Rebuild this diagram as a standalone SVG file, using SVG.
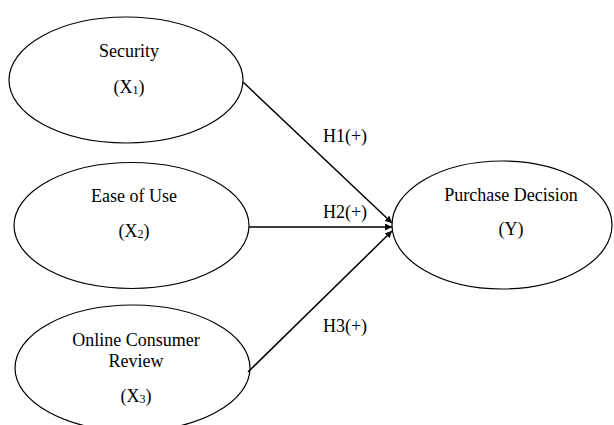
<svg xmlns="http://www.w3.org/2000/svg" width="614" height="425" viewBox="0 0 614 425">
<style>
.n ellipse{fill:#fff;stroke:#000;stroke-width:1.2}
text{font-family:"Liberation Serif","Times New Roman",serif;font-size:18px;fill:#000;text-anchor:middle}
.sub{font-size:12px}
.c line{stroke:#000;stroke-width:1.5}
</style>
<defs>
<marker id="ah" viewBox="0 0 10 10" refX="10" refY="5" markerWidth="7" markerHeight="7" markerUnits="userSpaceOnUse" orient="auto">
<path d="M0,0 L10,5 L0,10 Z" fill="#000"/>
</marker>
</defs>
<g id="x1" class="n">
<ellipse cx="126" cy="80" rx="117" ry="63"/>
<text x="129" y="57">Security</text>
<text x="129" y="93">(X<tspan class="sub" dy="1">1</tspan><tspan dy="-1">)</tspan></text>
</g>
<g id="x2" class="n">
<ellipse cx="131.5" cy="225.5" rx="117.5" ry="63"/>
<text x="134" y="202">Ease of Use</text>
<text x="134" y="237">(X<tspan class="sub" dy="1">2</tspan><tspan dy="-1">)</tspan></text>
</g>
<g id="x3" class="n">
<ellipse cx="132.5" cy="368" rx="117.5" ry="63"/>
<text x="136" y="346">Online Consumer</text>
<text x="136" y="367">Review</text>
<text x="136" y="402">(X<tspan class="sub" dy="1">3</tspan><tspan dy="-1">)</tspan></text>
</g>
<g id="y" class="n">
<ellipse cx="502" cy="225" rx="110" ry="64"/>
<text x="511" y="201">Purchase Decision</text>
<text x="511" y="235">(Y)</text>
</g>
<g class="c" id="connectors">
<line x1="243" y1="82" x2="392" y2="223" marker-end="url(#ah)"/>
<line x1="249" y1="227" x2="392" y2="227" marker-end="url(#ah)"/>
<line x1="248" y1="372" x2="392" y2="231" marker-end="url(#ah)"/>
</g>
<g id="labels">
<text x="345" y="142">H1(+)</text>
<text x="345" y="218">H2(+)</text>
<text x="345" y="332">H3(+)</text>
</g>
</svg>
